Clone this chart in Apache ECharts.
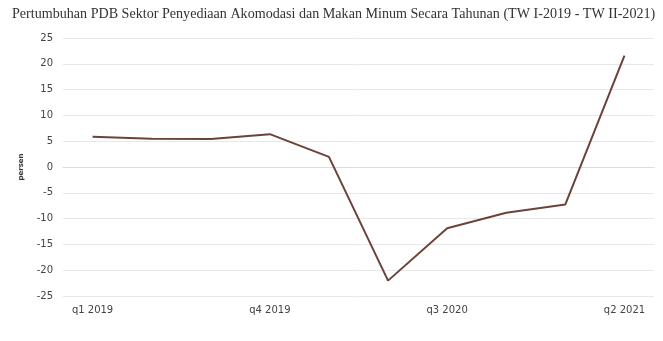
<!DOCTYPE html>
<html>
<head>
<meta charset="utf-8">
<script src="https://cdn.jsdelivr.net/npm/echarts@6/dist/echarts.min.js"></script>
<style>
    html, body { margin: 0; padding: 0; background: #fff; }
    #chart { width: 663px; height: 341px; }
</style>
</head>
<body>
<div id="chart"></div>
<script>
var quarters = ['q1 2019', 'q2 2019', 'q3 2019', 'q4 2019', 'q1 2020', 'q2 2020', 'q3 2020', 'q4 2020', 'q1 2021', 'q2 2021'];
var growth = [5.87, 5.48, 5.42, 6.36, 1.95, -22.02, -11.86, -8.88, -7.26, 21.58];
var yTicks = [-25, -20, -15, -10, -5, 0, 5, 10, 15, 20, 25];

var chart = echarts.init(document.getElementById('chart'));
var option = {
    backgroundColor: '#fff',
    animation: false,
    title: {
        text: 'Pertumbuhan PDB Sektor Penyediaan Akomodasi dan Makan Minum Secara Tahunan (TW I-2019 - TW II-2021)',
        left: 7,
        top: 2,
        textStyle: {
            fontFamily: 'Liberation Serif',
            fontWeight: 'normal',
            fontSize: 14.1,
            color: '#333'
        }
    },
    grid: {
        left: 63,
        right: 9,
        top: 38,
        bottom: 45
    },
    xAxis: {
        type: 'category',
        boundaryGap: true,
        data: quarters,
        axisLine: { lineStyle: { color: '#dcdcdc' } },
        axisTick: { alignWithLabel: true, interval: 2, length: 4, lineStyle: { color: '#dcdcdc' } },
        axisLabel: {
            interval: 2,
            margin: 9,
            fontFamily: 'DejaVu Sans',
            fontSize: 10,
            color: '#444'
        }
    },
    yAxis: {
        type: 'value',
        min: yTicks[0],
        max: yTicks[yTicks.length - 1],
        interval: 5,
        name: 'persen',
        nameLocation: 'middle',
        nameGap: 38,
        nameTextStyle: {
            fontFamily: 'DejaVu Sans',
            fontSize: 7,
            fontWeight: 'bold',
            color: '#333'
        },
        axisLine: { show: false },
        axisTick: { show: false },
        splitLine: { lineStyle: { color: '#e8e8e8' } },
        axisLabel: {
            margin: 10,
            fontFamily: 'DejaVu Sans',
            fontSize: 10,
            color: '#444'
        }
    },
    series: [
        {
            name: 'persen',
            type: 'line',
            data: growth,
            symbol: 'none',
            lineStyle: { color: '#6b4339', width: 2 }
        }
    ]
};
chart.setOption(option);
</script>
</body>
</html>
